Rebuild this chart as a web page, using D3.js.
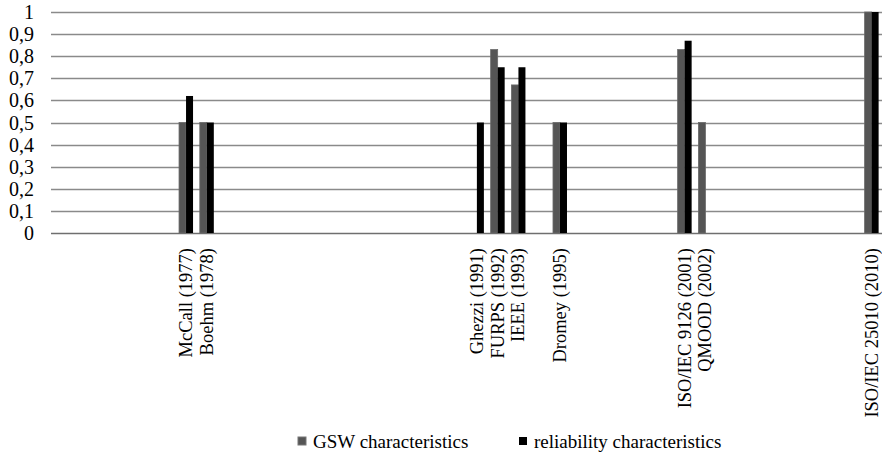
<!DOCTYPE html>
<html><head><meta charset="utf-8">
<script src="https://cdn.jsdelivr.net/npm/d3@7/dist/d3.min.js"></script>
<style>body{margin:0;background:#fff}svg{display:block}</style>
</head><body><svg id="c" width="882" height="465"></svg>
<script>
const models = ["McCall (1977)","Boehm (1978)","Ghezzi (1991)","FURPS (1992)","IEEE (1993)","Dromey (1995)","ISO/IEC 9126 (2001)","QMOOD (2002)","ISO/IEC 25010 (2010)"];
const years = [1977,1978,1991,1992,1993,1995,2001,2002,2010];
const gsw = [0.5,0.5,0,0.83,0.67,0.5,0.83,0.5,1];
const reliability = [0.62,0.5,0.5,0.75,0.75,0.5,0.87,0,1];
const yTicks = [0,0.1,0.2,0.3,0.4,0.5,0.6,0.7,0.8,0.9,1];
const seriesNames = ["GSW characteristics","reliability characteristics"];
const colors = ["#555555","#000000"];

const svg = d3.select("#c");
const font = "'Liberation Serif','Times New Roman',serif";
const x = d3.scaleLinear().domain([1970.5,2010.5]).range([51,882]);
const y = d3.scaleLinear().domain([0,1]).range([233,12]);
const bw = 7;

// gridlines
svg.append("g").selectAll("line").data(yTicks).join("line")
  .attr("x1",51).attr("x2",882)
  .attr("y1",d=>Math.round(y(d))+0.5).attr("y2",d=>Math.round(y(d))+0.5)
  .attr("stroke",d=>d===0?"#6f6f6f":"#8a8a8a").attr("stroke-width",d=>d===0?1.6:1.3);

// y labels
svg.append("g").selectAll("text").data(yTicks).join("text")
  .attr("x",34).attr("y",d=>y(d)).attr("dy","0.35em")
  .attr("text-anchor","end").attr("font-family",font).attr("font-size",20)
  .text(d=>d===0?"0":d===1?"1":d3.format(".1f")(d).replace(".",","));

const data = models.map((m,i)=>({m,year:years[i],v:[gsw[i],reliability[i]]}));
const bars = svg.append("g");
data.forEach(d=>{
  d.v.forEach((v,k)=>{
    if(v<=0) return;
    const cx = x(d.year);
    bars.append("rect")
      .attr("x",cx - bw + k*bw).attr("width",bw)
      .attr("y",y(v)).attr("height",y(0)-y(v))
      .attr("fill",colors[k])
      .attr("stroke",k===0?"#6a6a6a":"none").attr("stroke-width",0.8);
  });
});

// x labels
svg.append("g").selectAll("text").data(data).join("text")
  .attr("transform",d=>`translate(${x(d.year)},248) rotate(-90)`)
  .attr("dy","0.32em").attr("text-anchor","end")
  .attr("font-family",font).attr("font-size",18.5)
  .text(d=>d.m);

// legend
const lg = svg.append("g");
const lx = [298,519];
seriesNames.forEach((n,k)=>{
  lg.append("rect").attr("x",lx[k]).attr("y",437).attr("width",8).attr("height",8).attr("fill",colors[k]).attr("stroke",k===0?"#777":"none");
  lg.append("text").attr("x",lx[k]+15).attr("y",441).attr("dy","0.35em")
    .attr("font-family",font).attr("font-size",19).text(n);
});
</script></body></html>
